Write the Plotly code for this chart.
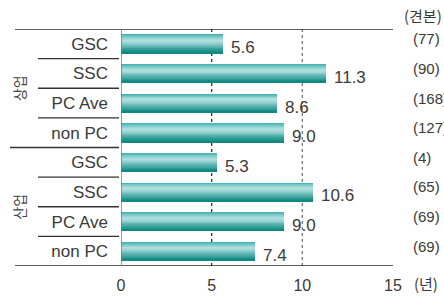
import plotly.graph_objects as go

# ---- data ----
groups = ["상업", "산업"]
labels = ["GSC", "SSC", "PC Ave", "non PC", "GSC", "SSC", "PC Ave", "non PC"]
values = [5.6, 11.3, 8.6, 9.0, 5.3, 10.6, 9.0, 7.4]
value_text = ["5.6", "11.3", "8.6", "9.0", "5.3", "10.6", "9.0", "7.4"]
counts = ["(77)", "(90)", "(168)", "(127)", "(4)", "(65)", "(69)", "(69)"]
x_ticks = [0, 5, 10, 15]
count_title = "(견본)"
unit_label = "(년)"

rows = list(range(len(labels)))

# ---- style ----
FONT = "Liberation Sans, Arial, sans-serif"
KFONT = "Noto Sans CJK KR, sans-serif"
TXT = "#3a3a3a"
W, H = 444, 306
ML, MR, MT, MB = 121, 51, 29, 34
PW = W - ML - MR
PH = H - MT - MB

def px_x(px):
    return (px - ML) / PW

def px_y(py):
    return (H - MB - py) / PH

# vertical gradient of the bars (top -> bottom)
stops = [(0.0, (70, 180, 180)), (0.15, (135, 205, 205)), (0.3, (178, 224, 224)),
         (0.45, (155, 212, 211)), (0.65, (92, 180, 177)), (0.85, (45, 154, 149)),
         (1.0, (17, 136, 130))]

def grad(t):
    for (t0, c0), (t1, c1) in zip(stops[:-1], stops[1:]):
        if t <= t1:
            f = (t - t0) / (t1 - t0) if t1 > t0 else 0
            return "rgb(%d,%d,%d)" % tuple(round(a + (b - a) * f) for a, b in zip(c0, c1))
    return "rgb(%d,%d,%d)" % stops[-1][1]

BAR_W = 0.63
N = 20
fig = go.Figure()
for i in range(N):
    start = -BAR_W / 2 + i * BAR_W / N
    width = BAR_W - i * BAR_W / N
    fig.add_trace(go.Bar(
        x=values, y=rows, orientation="h",
        width=[width] * len(rows), offset=[start] * len(rows),
        marker=dict(color=grad(i / (N - 1)), line=dict(width=0)),
        hoverinfo="skip", showlegend=False,
    ))

# value labels
for r, v, t in zip(rows, values, value_text):
    fig.add_annotation(x=v, y=r, text=t, showarrow=False, xanchor="left",
                       xshift=6, yshift=-4, font=dict(family=FONT, size=17, color=TXT))

# sample counts on the right
for r, c in zip(rows, counts):
    fig.add_annotation(x=px_x(411), xref="paper", y=r, yref="y", text=c, showarrow=False,
                       xanchor="left", yshift=5, font=dict(family=FONT, size=15, color=TXT))
fig.add_annotation(x=px_x(402), xref="paper", y=px_y(15), yref="paper", text=count_title,
                   showarrow=False, xanchor="left", yanchor="middle",
                   font=dict(family=KFONT, size=15, color=TXT))
fig.add_annotation(x=px_x(412), xref="paper", y=px_y(290), yref="paper", text=unit_label,
                   showarrow=False, xanchor="left", yanchor="middle",
                   font=dict(family=KFONT, size=15, color=TXT))

# group labels (rotated)
for g, yc in zip(groups, [1.5, 5.5]):
    fig.add_annotation(x=px_x(19), xref="paper", y=yc, yref="y", text=g, showarrow=False,
                       textangle=-90, xanchor="center", yanchor="middle",
                       font=dict(family=KFONT, size=14, color="#444"))

shapes = []
# top / bottom rules
for yy in [-0.5, len(rows) - 0.5]:
    shapes.append(dict(type="line", xref="paper", yref="y", x0=px_x(15), x1=1, y0=yy, y1=yy,
                       line=dict(color="#2a2a2a", width=1.5)))
# row separators
for k in range(1, len(rows)):
    yy = k - 0.5
    x0 = px_x(10) if k == 4 else px_x(38)
    shapes.append(dict(type="line", xref="paper", yref="y", x0=x0, x1=px_x(119), y0=yy, y1=yy,
                       line=dict(color="#333", width=1.3)))
# axis line and dotted reference lines
shapes.append(dict(type="line", xref="x", yref="y", x0=0, x1=0, y0=-0.5, y1=len(rows) - 0.5,
                   line=dict(color="#7a7a7a", width=1.5)))
for xv, col in [(5, "#333"), (10, "#777")]:
    shapes.append(dict(type="line", xref="x", yref="y", x0=xv, x1=xv, y0=-0.5, y1=len(rows) - 0.5,
                       line=dict(color=col, width=1.3, dash="dot"), layer="below"))

fig.update_layout(
    width=W, height=H, margin=dict(l=ML, r=MR, t=MT, b=MB),
    paper_bgcolor="white", plot_bgcolor="white",
    barmode="overlay", bargap=0, shapes=shapes,
    xaxis=dict(range=[0, 15], tickvals=x_ticks, ticktext=[str(t) for t in x_ticks],
               showgrid=False, zeroline=False, showline=False, ticks="",
               ticklabelstandoff=8, tickfont=dict(family=FONT, size=16, color=TXT),
               fixedrange=True),
    yaxis=dict(range=[len(rows) - 0.5, -0.5], tickvals=rows, ticktext=labels,
               showgrid=False, zeroline=False, showline=False, ticks="",
               ticklabelstandoff=12, tickfont=dict(family=FONT, size=17, color=TXT),
               fixedrange=True),
)

fig.write_html("out.html", config={"displayModeBar": False},
               post_script="document.body.style.margin='0';document.body.style.overflow='hidden';")
